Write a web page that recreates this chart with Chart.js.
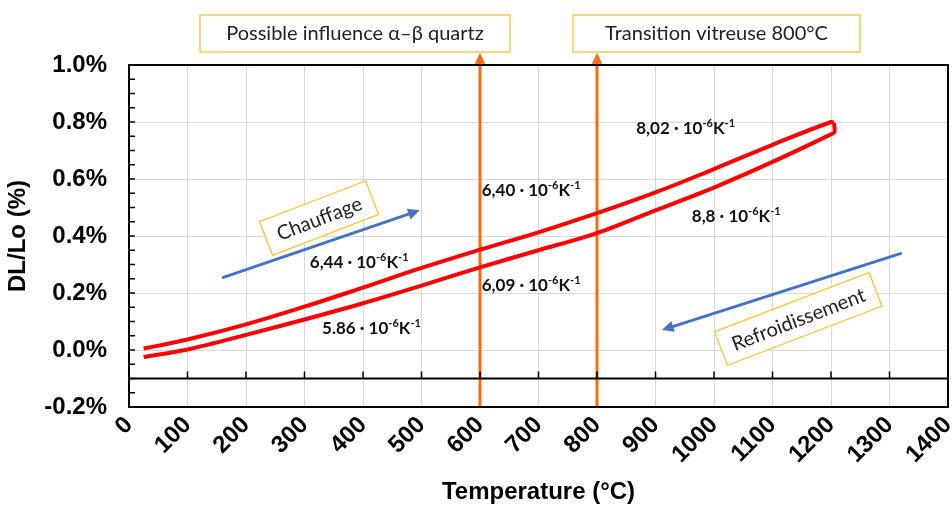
<!DOCTYPE html>
<html>
<head>
<meta charset="utf-8">
<script src="https://cdn.jsdelivr.net/npm/chart.js@4.4.1/dist/chart.umd.min.js"></script>
<style>
body { margin: 0; background: #fff; }
#wrap { width: 952px; height: 507px; }
</style>
</head>
<body>
<div id="wrap"><canvas id="chart"></canvas></div>
<script>
// heating branch (upper curve)
const heatT = [25, 100, 200, 300, 400, 500, 600, 700, 800, 900, 1000, 1100, 1200, 1205]
const heatDL = [0.005, 0.037, 0.09, 0.152, 0.219, 0.288, 0.352, 0.413, 0.48, 0.553, 0.635, 0.72, 0.80, 0.797]

// cooling branch (lower curve)
const coolT = [1205, 1206, 1198, 1100, 1000, 900, 800, 700, 600, 500, 400, 300, 200, 100, 25]
const coolDL = [0.797, 0.765, 0.755, 0.66, 0.57, 0.49, 0.41, 0.35, 0.29, 0.226, 0.164, 0.107, 0.053, 0.002, -0.025]

// vertical markers
const markT = [600, 800]
const markText = ["Possible influence \u03b1\u2013\u03b2 quartz", "Transition vitreuse 800\u00b0C"]

// expansion coefficients written on the chart
const rateText = ["8,02", "6,40", "8,8", "6,44", "6,09", "5.86"]
const rateT = [867, 603, 962, 309, 603, 330]
const rateDL = [0.78, 0.56, 0.47, 0.31, 0.228, 0.077]

// direction arrows and their captions
const arrowFrom = [[159, 0.253], [1321, 0.34]]
const arrowTo = [[497, 0.49], [911, 0.07]]
const arrowText = ["Chauffage", "Refroidissement"]
const arrowTextAt = [[325, 0.463], [1144, 0.109]]

const orange = '#FF6A0D'
const red = '#FF0000'
const blue = '#4472C4'
const gold = '#F8CB4F'
const labelFont = 'Lato, "Open Sans", sans-serif'

function arrowHead(ctx, x1, y1, x2, y2, size) {
    let a = Math.atan2(y2 - y1, x2 - x1)
    ctx.beginPath()
    ctx.moveTo(x2, y2)
    ctx.lineTo(x2 - size * Math.cos(a - 0.45), y2 - size * Math.sin(a - 0.45))
    ctx.lineTo(x2 - size * Math.cos(a + 0.45), y2 - size * Math.sin(a + 0.45))
    ctx.closePath()
    ctx.fill()
}

function drawRate(ctx, base, x, y) {
    // "x,xx · 10^-6 K^-1" with small raised exponents
    let parts = [[base + ' \u00b7 10', false], ['-6', true], ['K', false], ['-1', true]]
    ctx.textBaseline = 'alphabetic'
    ctx.textAlign = 'left'
    let cx = x
    parts.forEach(p => {
        let s = p[0].replace('-', '\u2011')
        if (p[1]) {
            ctx.font = 'bold 11px ' + labelFont
            ctx.fillText(s, cx, y - 7)
        } else {
            ctx.font = 'bold 17px ' + labelFont
            ctx.fillText(s, cx, y)
        }
        cx += ctx.measureText(s).width
    })
}

const decor = {
    id: 'decor',
    beforeDatasetsDraw(chart) {
        const {ctx, scales: {x, y}} = chart
        ctx.save()
        ctx.strokeStyle = orange
        ctx.fillStyle = orange
        ctx.lineWidth = 3
        markT.forEach(t => {
            let px = x.getPixelForValue(t)
            let yb = y.getPixelForValue(-0.2)
            ctx.beginPath()
            ctx.moveTo(px, yb)
            ctx.lineTo(px, 62)
            ctx.stroke()
            arrowHead(ctx, px, 70, px, 53, 12)
        })
        ctx.restore()
    },
    afterDatasetsDraw(chart) {
        const {ctx, chartArea: ca, scales: {x, y}} = chart
        ctx.save()

        // frame and the horizontal line at -0.1 %
        ctx.strokeStyle = '#000'
        ctx.lineWidth = 2
        ctx.strokeRect(ca.left, ca.top, ca.right - ca.left, ca.bottom - ca.top)
        let y01 = y.getPixelForValue(-0.1)
        ctx.beginPath()
        ctx.moveTo(ca.left, y01)
        ctx.lineTo(ca.right, y01)
        ctx.stroke()

        // small inside ticks
        ctx.lineWidth = 1.5
        ctx.beginPath()
        for (let t = 100; t < 1400; t += 100) {
            let px = x.getPixelForValue(t)
            ctx.moveTo(px, y01)
            ctx.lineTo(px, y01 - 7)
        }
        for (let k = -4; k <= 20; k++) {
            let py = y.getPixelForValue(k * 0.05)
            ctx.moveTo(ca.left, py)
            ctx.lineTo(ca.left + 6, py)
        }
        ctx.stroke()

        // boxes at the top of the orange markers
        let boxes = [[x.getPixelForValue(markT[0]) - 280, 310], [x.getPixelForValue(markT[1]) - 24, 287]]
        ctx.font = '20px ' + labelFont
        ctx.textBaseline = 'middle'
        ctx.textAlign = 'center'
        boxes.forEach((b, i) => {
            ctx.fillStyle = '#fff'
            ctx.fillRect(b[0], 15, b[1], 37)
            ctx.strokeStyle = gold
            ctx.lineWidth = 1.5
            ctx.strokeRect(b[0], 15, b[1], 37)
            ctx.fillStyle = '#222'
            ctx.fillText(markText[i], b[0] + b[1] / 2, 34)
        })

        // coefficient labels
        ctx.fillStyle = '#111'
        rateText.forEach((s, i) => {
            drawRate(ctx, s, x.getPixelForValue(rateT[i]), y.getPixelForValue(rateDL[i]) + 6)
        })

        // heating / cooling arrows
        ctx.strokeStyle = blue
        ctx.fillStyle = blue
        ctx.lineWidth = 3
        arrowFrom.forEach((f, i) => {
            let x1 = x.getPixelForValue(f[0]), y1 = y.getPixelForValue(f[1])
            let x2 = x.getPixelForValue(arrowTo[i][0]), y2 = y.getPixelForValue(arrowTo[i][1])
            let a = Math.atan2(y2 - y1, x2 - x1)
            ctx.beginPath()
            ctx.moveTo(x1, y1)
            ctx.lineTo(x2 - 8 * Math.cos(a), y2 - 8 * Math.sin(a))
            ctx.stroke()
            arrowHead(ctx, x1, y1, x2, y2, 13)
        })

        // rotated captions in boxes
        ctx.font = '20px ' + labelFont
        ctx.textAlign = 'center'
        ctx.textBaseline = 'middle'
        arrowText.forEach((s, i) => {
            let cx = x.getPixelForValue(arrowTextAt[i][0])
            let cy = y.getPixelForValue(arrowTextAt[i][1])
            let w = ctx.measureText(s).width + 24
            ctx.save()
            ctx.translate(cx, cy)
            ctx.rotate(-21 * Math.PI / 180)
            ctx.fillStyle = '#fff'
            ctx.fillRect(-w / 2, -18, w, 36)
            ctx.strokeStyle = gold
            ctx.lineWidth = 1.5
            ctx.strokeRect(-w / 2, -18, w, 36)
            ctx.fillStyle = '#222'
            ctx.fillText(s, 0, 1)
            ctx.restore()
        })

        ctx.restore()
    }
}

Chart.defaults.color = '#000'
Chart.defaults.font.family = '"Liberation Sans", Arial, sans-serif'

const ctx = document.getElementById('chart')
const chart = new Chart(ctx, {
    type: 'scatter',
    data: {
        datasets: [{
            data: heatT.map((t, i) => ({x: t, y: heatDL[i]})),
            showLine: true,
            borderColor: red,
            borderWidth: 4,
            pointRadius: 0,
            tension: 0.4
        }, {
            data: coolT.map((t, i) => ({x: t, y: coolDL[i]})),
            showLine: true,
            borderColor: red,
            borderWidth: 4,
            pointRadius: 0,
            tension: 0.3
        }]
    },
    options: {
        responsive: true,
        maintainAspectRatio: false,
        animation: false,
        layout: {padding: {left: 4, right: 4, top: 65, bottom: 0}},
        plugins: {
            legend: {display: false},
            tooltip: {enabled: false}
        },
        scales: {
            x: {
                type: 'linear',
                min: 0,
                max: 1400,
                afterFit: s => { s.height = 100; s.paddingRight = 0; s.paddingLeft = 0 },
                border: {display: false},
                grid: {color: '#d9d9d9', drawTicks: false},
                ticks: {
                    stepSize: 100,
                    minRotation: 45,
                    maxRotation: 45,
                    padding: 4,
                    font: {size: 24, weight: 'bold'},
                    callback: v => String(v)
                },
                title: {
                    display: true,
                    text: 'Temperature (\u00b0C)',
                    font: {size: 24, weight: 'bold'},
                    padding: {top: 0, bottom: 0}
                }
            },
            y: {
                min: -0.2,
                max: 1.0,
                afterFit: s => { s.width = 125 },
                border: {display: false},
                grid: {color: '#d9d9d9', drawTicks: false},
                ticks: {
                    stepSize: 0.2,
                    padding: 22,
                    font: {size: 24, weight: 'bold'},
                    callback: v => (Math.abs(v) < 1e-9 ? 0 : v).toFixed(1) + '%'
                },
                title: {
                    display: true,
                    text: 'DL/Lo (%)',
                    font: {size: 24, weight: 'bold'},
                    padding: {top: 0, bottom: 2}
                }
            }
        }
    },
    plugins: [decor]
})
</script>
</body>
</html>
